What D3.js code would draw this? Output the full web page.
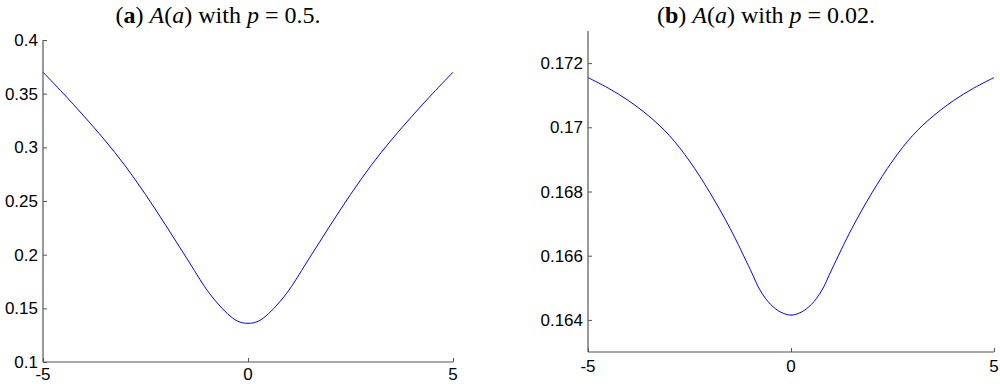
<!DOCTYPE html>
<html>
<head>
<meta charset="utf-8">
<script src="https://cdnjs.cloudflare.com/ajax/libs/d3/7.8.5/d3.min.js"></script>
<style>
  html, body { margin: 0; padding: 0; background: #fff; }
  svg { display: block; }
  .tick-label { font-family: "Liberation Sans", Arial, sans-serif; font-size: 17px; fill: #000; }
  .title { font-family: "Liberation Serif", "Times New Roman", serif; font-size: 24px; fill: #000; }
</style>
</head>
<body>
<script>
'use strict';

// a values shared by both panels (finer near the minimum)
var aValues = [-5, -4.5, -4, -3.5, -3, -2.5, -2, -1.5, -1, -0.75, -0.5, -0.25, 0,
               0.25, 0.5, 0.75, 1, 1.5, 2, 2.5, 3, 3.5, 4, 4.5, 5];

// (a) p = 0.5
var seriesP05 = [0.370, 0.350, 0.329, 0.307, 0.283, 0.256, 0.227, 0.197, 0.167, 0.155, 0.145, 0.138, 0.136,
                 0.138, 0.145, 0.155, 0.167, 0.197, 0.227, 0.256, 0.283, 0.307, 0.329, 0.350, 0.370];

// (b) p = 0.02
var seriesP002 = [0.17155, 0.17122, 0.17083, 0.17035, 0.16975, 0.16895, 0.16797, 0.16685, 0.16556, 0.16490, 0.16448, 0.16424, 0.16415,
                  0.16424, 0.16448, 0.16490, 0.16556, 0.16685, 0.16797, 0.16895, 0.16975, 0.17035, 0.17083, 0.17122, 0.17155];

var xTicks = [-5, 0, 5];
var xTickLabels = ["-5", "0", "5"];
var yTicksA = [0.1, 0.15, 0.2, 0.25, 0.3, 0.35, 0.4];
var yTickLabelsA = ["0.1", "0.15", "0.2", "0.25", "0.3", "0.35", "0.4"];
var yTicksB = [0.164, 0.166, 0.168, 0.17, 0.172];
var yTickLabelsB = ["0.164", "0.166", "0.168", "0.17", "0.172"];

var myChart = {};
myChart.width = 1000;
myChart.height = 384;

myChart.drawPanel = function(svg, cfg){

    var xScale = d3.scaleLinear().domain([-5, 5]).range([cfg.left, cfg.right]);
    var yScale = d3.scaleLinear().domain(cfg.yDomain).range([cfg.bottom, cfg.top]);

    var g = svg.append("g");

    // curve
    var line = d3.line()
        .x(function(d, i){ return xScale(aValues[i]); })
        .y(function(d){ return yScale(d); })
        .curve(d3.curveCatmullRom.alpha(0.5));

    g.append("path")
        .datum(cfg.values)
        .attr("d", line)
        .attr("fill", "none")
        .attr("stroke", "#0000ff")
        .attr("stroke-width", 1);

    // axes, MATLAB style: ticks pointing inward
    var xAxis = d3.axisTop(xScale)
        .tickValues(xTicks)
        .tickSize(4)
        .tickFormat("");
    var yAxis = d3.axisRight(yScale)
        .tickValues(cfg.yTicks)
        .tickSize(4)
        .tickFormat("");

    var gx = g.append("g")
        .attr("transform", "translate(0," + cfg.bottom + ")")
        .call(xAxis);
    var gy = g.append("g")
        .attr("transform", "translate(" + cfg.left + ",0)")
        .call(yAxis);

    [gx, gy].forEach(function(ax){
        ax.select(".domain").remove();
        ax.selectAll(".tick line").attr("stroke", "#555").attr("stroke-width", 1);
    });

    g.append("line")
        .attr("x1", cfg.left).attr("x2", cfg.right)
        .attr("y1", cfg.bottom).attr("y2", cfg.bottom)
        .attr("stroke", "#555").attr("stroke-width", 1.2);
    g.append("line")
        .attr("x1", cfg.left).attr("x2", cfg.left)
        .attr("y1", cfg.bottom).attr("y2", cfg.top)
        .attr("stroke", "#555").attr("stroke-width", 1.2);

    // tick labels
    g.selectAll(".ylab")
        .data(cfg.yTicks)
        .enter()
            .append("text")
            .attr("class", "tick-label")
            .attr("x", cfg.left - 5)
            .attr("y", function(d){ return yScale(d); })
            .attr("dy", "0.36em")
            .attr("text-anchor", "end")
            .text(function(d, i){ return cfg.yLabels[i]; });

    g.selectAll(".xlab")
        .data(xTicks)
        .enter()
            .append("text")
            .attr("class", "tick-label")
            .attr("x", function(d){ return xScale(d); })
            .attr("y", cfg.bottom + cfg.xLabelGap)
            .attr("text-anchor", "middle")
            .text(function(d, i){ return xTickLabels[i]; });

    // title
    var title = g.append("text")
        .attr("class", "title")
        .attr("x", cfg.titleX)
        .attr("y", 23)
        .attr("text-anchor", "middle");
    title.append("tspan").text("(");
    title.append("tspan").attr("font-weight", "bold").text(cfg.letter);
    title.append("tspan").text(") ");
    title.append("tspan").attr("font-style", "italic").text("A");
    title.append("tspan").text("(");
    title.append("tspan").attr("font-style", "italic").text("a");
    title.append("tspan").text(") with ");
    title.append("tspan").attr("font-style", "italic").text("p");
    title.append("tspan").text(" = " + cfg.pText + ".");
}

myChart.run = function(){

    var svg = d3.select("body").append("svg")
        .attr("width", myChart.width)
        .attr("height", myChart.height);

    myChart.drawPanel(svg, {
        left: 43, right: 453, top: 40, bottom: 362,
        yDomain: [0.1, 0.4],
        values: seriesP05,
        yTicks: yTicksA, yLabels: yTickLabelsA,
        xLabelGap: 18,
        titleX: 218, letter: "a", pText: "0.5"
    });

    myChart.drawPanel(svg, {
        left: 588, right: 994, top: 31, bottom: 352,
        yDomain: [0.163, 0.173],
        values: seriesP002,
        yTicks: yTicksB, yLabels: yTickLabelsB,
        xLabelGap: 20,
        titleX: 766, letter: "b", pText: "0.02"
    });
}

window.onload = myChart.run;
</script>
</body>
</html>
